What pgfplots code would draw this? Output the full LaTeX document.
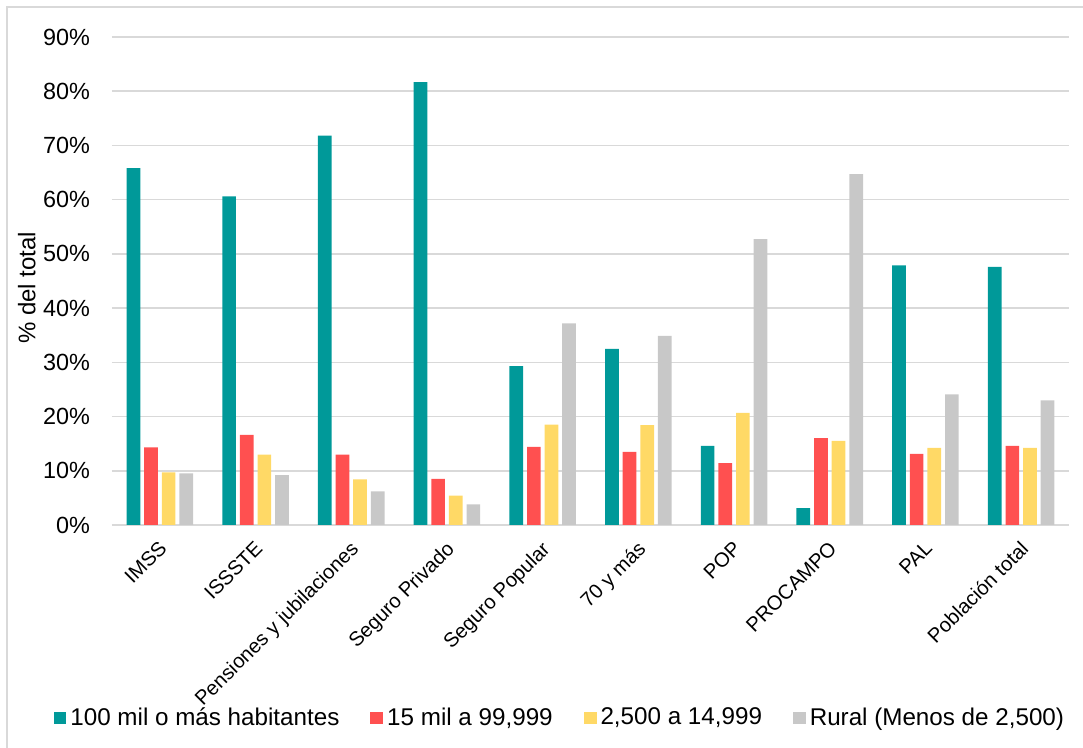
\documentclass[border=0pt]{standalone}
\usepackage{fontspec}
\setmainfont{Liberation Sans}
\usepackage{pgfplots}
\usepackage{pgfplotstable}
\pgfplotsset{compat=1.18}
\definecolor{cteal}{RGB}{0,153,153}
\definecolor{cred}{RGB}{255,80,80}
\definecolor{cyel}{RGB}{255,217,102}
\definecolor{cgray}{RGB}{200,200,200}
\definecolor{gridc}{RGB}{217,217,217}

\pgfplotstableread{
x y
0 65.8
1 60.6
2 71.8
3 81.7
4 29.3
5 32.5
6 14.6
7 3.1
8 47.9
9 47.6
}\tealdata
\pgfplotstableread{
x y
0 14.3
1 16.6
2 13.0
3 8.5
4 14.4
5 13.5
6 11.4
7 16.0
8 13.1
9 14.6
}\reddata
\pgfplotstableread{
x y
0 9.7
1 13.0
2 8.4
3 5.4
4 18.5
5 18.4
6 20.7
7 15.5
8 14.2
9 14.2
}\yeldata
\pgfplotstableread{
x y
0 9.5
1 9.2
2 6.2
3 3.8
4 37.2
5 34.9
6 52.7
7 64.7
8 24.1
9 23.0
}\graydata

\begin{document}
\begin{tikzpicture}
\useasboundingbox (0,0) rectangle (541.5pt,374pt);
\draw[gridc, line width=1pt] (3.5pt,-20pt) rectangle (560pt,370.5pt);
\begin{axis}[
  at={(56pt,111.5pt)}, anchor=south west,
  scale only axis, width=478.5pt, height=244pt,
  xmin=-0.5, xmax=9.5, ymin=0, ymax=90,
  ybar, bar width=0.143,
  axis line style={draw=none},
  tick style={draw=none},
  ymajorgrids, major grid style={draw=gridc, line width=0.8pt},
  ytick={0,10,20,30,40,50,60,70,80,90},
  yticklabels={0\%,10\%,20\%,30\%,40\%,50\%,60\%,70\%,80\%,90\%},
  yticklabel style={font=\fontsize{11.7}{14}\selectfont, xshift=-7.5pt},
  xtick={0,...,9},
  xticklabels={IMSS,ISSSTE,Pensiones y jubilaciones,Seguro Privado,Seguro Popular,70 y más,POP,PROCAMPO,PAL,Población total},
  xticklabel style={font=\fontsize{10.1}{12}\selectfont, xshift=-1pt, yshift=-1.5pt, rotate=45, anchor=north east, inner sep=1pt},
  /pgf/number format/assume math mode=true,
  ylabel={\% del total},
  ylabel style={font=\fontsize{12}{14}\selectfont, at={(axis description cs:-0.089,0.486)}, anchor=center},
  legend columns=4,
  legend style={draw=none, fill=none, at={(0.469,-0.3955)}, anchor=center,
    font=\fontsize{12.1}{14}\selectfont,
    /tikz/every even column/.append style={column sep=13.5pt},
    /tikz/every odd column/.append style={column sep=0pt},
    inner sep=0pt},
  legend image code/.code={\fill[#1] (0pt,-3.2pt) rectangle (6.4pt,3.2pt);},
]
\addplot[fill=cteal, draw=none, bar shift=-0.276] table[x=x,y=y] {\tealdata};
\addlegendentry{100 mil o más habitantes}
\addplot[fill=cred, draw=none, bar shift=-0.092] table[x=x,y=y] {\reddata};
\addlegendentry{15 mil a 99,999}
\addplot[fill=cyel, draw=none, bar shift=0.092] table[x=x,y=y] {\yeldata};
\addlegendentry{2,500 a 14,999}
\addplot[fill=cgray, draw=none, bar shift=0.276] table[x=x,y=y] {\graydata};
\addlegendentry{Rural (Menos de 2,500)}
\end{axis}
\end{tikzpicture}
\end{document}
